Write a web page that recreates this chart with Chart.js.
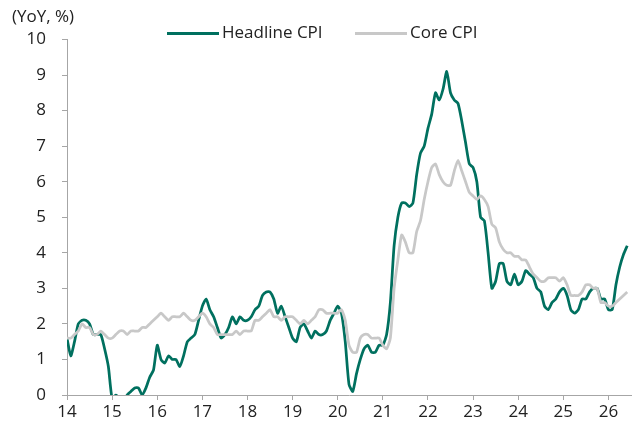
<!DOCTYPE html>
<html>
<head>
<meta charset="utf-8">
<script src="https://cdn.jsdelivr.net/npm/chart.js@4.4.1/dist/chart.umd.min.js"></script>
<style>
  html, body { margin: 0; padding: 0; background: #fff; }
  #wrap { width: 633px; height: 425px; position: relative; }
</style>
</head>
<body>
<div id="wrap"><canvas id="cpi" width="633" height="425"></canvas></div>
<script>
// monthly YoY %, Jan 2014 onwards
const headline = [
  1.6, 1.1, 1.5, 2.0, 2.1, 2.1, 2.0, 1.7, 1.7, 1.7, 1.3, 0.8,
  -0.1, 0.0, -0.1, -0.2, 0.0, 0.1, 0.2, 0.2, 0.0, 0.2, 0.5, 0.7,
  1.4, 1.0, 0.9, 1.1, 1.0, 1.0, 0.8, 1.1, 1.5, 1.6, 1.7, 2.1,
  2.5, 2.7, 2.4, 2.2, 1.9, 1.6, 1.7, 1.9, 2.2, 2.0, 2.2, 2.1,
  2.1, 2.2, 2.4, 2.5, 2.8, 2.9, 2.9, 2.7, 2.3, 2.5, 2.2, 1.9,
  1.6, 1.5, 1.9, 2.0, 1.8, 1.6, 1.8, 1.7, 1.7, 1.8, 2.1, 2.3,
  2.5, 2.3, 1.5, 0.3, 0.1, 0.6, 1.0, 1.3, 1.4, 1.2, 1.2, 1.4,
  1.4, 1.7, 2.6, 4.2, 5.0, 5.4, 5.4, 5.3, 5.4, 6.2, 6.8, 7.0,
  7.5, 7.9, 8.5, 8.3, 8.6, 9.1, 8.5, 8.3, 8.2, 7.7, 7.1, 6.5,
  6.4, 6.0, 5.0, 4.9, 4.0, 3.0, 3.2, 3.7, 3.7, 3.2, 3.1, 3.4,
  3.1, 3.2, 3.5, 3.4, 3.3, 3.0, 2.9, 2.5, 2.4, 2.6, 2.7, 2.9,
  3.0, 2.8, 2.4, 2.3, 2.4, 2.7, 2.7, 2.9, 3.0, 3.0, 2.7, 2.7,
  2.4, 2.4, 3.1, 3.6, 3.95, 4.2
];
const core = [
  1.6, 1.6, 1.7, 1.8, 2.0, 1.9, 1.9, 1.7, 1.7, 1.8, 1.7, 1.6,
  1.6, 1.7, 1.8, 1.8, 1.7, 1.8, 1.8, 1.8, 1.9, 1.9, 2.0, 2.1,
  2.2, 2.3, 2.2, 2.1, 2.2, 2.2, 2.2, 2.3, 2.2, 2.1, 2.1, 2.2,
  2.3, 2.2, 2.0, 1.9, 1.7, 1.7, 1.7, 1.7, 1.7, 1.8, 1.7, 1.8,
  1.8, 1.8, 2.1, 2.1, 2.2, 2.3, 2.4, 2.2, 2.2, 2.1, 2.2, 2.2,
  2.2, 2.1, 2.0, 2.1, 2.0, 2.1, 2.2, 2.4, 2.4, 2.3, 2.3, 2.3,
  2.3, 2.4, 2.1, 1.4, 1.2, 1.2, 1.6, 1.7, 1.7, 1.6, 1.6, 1.6,
  1.4, 1.3, 1.6, 3.0, 3.8, 4.5, 4.3, 4.0, 4.0, 4.6, 4.9, 5.5,
  6.0, 6.4, 6.5, 6.2, 6.0, 5.9, 5.9, 6.3, 6.6, 6.3, 6.0, 5.7,
  5.6, 5.5, 5.6, 5.5, 5.3, 4.8, 4.7, 4.3, 4.1, 4.0, 4.0, 3.9,
  3.9, 3.8, 3.8, 3.6, 3.4, 3.3, 3.2, 3.2, 3.3, 3.3, 3.3, 3.2,
  3.3, 3.1, 2.8, 2.8, 2.8, 2.9, 3.1, 3.1, 3.0, 3.0, 2.6, 2.6,
  2.5, 2.5, 2.6, 2.7, 2.8, 2.9
];
const startYear = 14;
const yearTicks = [14, 15, 16, 17, 18, 19, 20, 21, 22, 23, 24, 25, 26];
const seriesNames = ["Headline CPI", "Core CPI"];

const FONT = "'Open Sans', sans-serif";
const AXIS = "#a6a6a6";
const TEAL = "#00705f";
const GREY = "#c8c8c8";

const toPoints = arr => arr.map((v, i) => ({ x: startYear + i / 12, y: v }));

// legend + unit label drawn by hand so they can sit above the plot
const topText = {
  id: "topText",
  afterDraw(chart) {
    const ctx = chart.ctx;
    ctx.save();
    ctx.font = "17px " + FONT;
    ctx.fillStyle = "#222";
    ctx.textBaseline = "middle";
    ctx.textAlign = "left";
    ctx.fillText("(YoY, %)", 12, 17);

    const items = [
      { x: 167, color: TEAL, label: seriesNames[0] },
      { x: 355, color: GREY, label: seriesNames[1] }
    ];
    items.forEach(it => {
      ctx.strokeStyle = it.color;
      ctx.lineWidth = 3;
      ctx.beginPath();
      ctx.moveTo(it.x, 33.5);
      ctx.lineTo(it.x + 52, 33.5);
      ctx.stroke();
      ctx.fillText(it.label, it.x + 55, 33.5);
    });
    ctx.restore();
  }
};

new Chart(document.getElementById("cpi"), {
  type: "line",
  data: {
    datasets: [
      {
        label: seriesNames[1],
        data: toPoints(core),
        borderColor: GREY,
        borderWidth: 2.75,
        pointRadius: 0,
        tension: 0.2
      },
      {
        label: seriesNames[0],
        data: toPoints(headline),
        borderColor: TEAL,
        borderWidth: 2.75,
        pointRadius: 0,
        tension: 0.2
      }
    ]
  },
  options: {
    responsive: false,
    animation: false,
    devicePixelRatio: 1,
    layout: { padding: { top: 39.5, right: 2, left: 0, bottom: 0 } },
    plugins: { legend: { display: false }, tooltip: { enabled: false } },
    scales: {
      x: {
        type: "linear",
        min: 14,
        max: 26.5,
        afterBuildTicks: s => { s.ticks = yearTicks.map(v => ({ value: v })); },
        afterFit: s => { s.height = 30; },
        grid: { drawOnChartArea: false, tickLength: 5, color: AXIS },
        border: { color: AXIS, width: 1 },
        ticks: {
          padding: 2,
          maxRotation: 0,
          autoSkip: false,
          color: "#222",
          font: { family: FONT, size: 17 },
          callback: v => String(v)
        }
      },
      y: {
        min: 0,
        max: 10,
        afterFit: s => { s.width = 67; },
        grid: { drawOnChartArea: false, tickLength: 5, color: AXIS },
        border: { color: AXIS, width: 1 },
        ticks: {
          stepSize: 1,
          padding: 16,
          color: "#222",
          font: { family: FONT, size: 17 }
        }
      }
    }
  },
  plugins: [topText]
});
</script>
</body>
</html>
